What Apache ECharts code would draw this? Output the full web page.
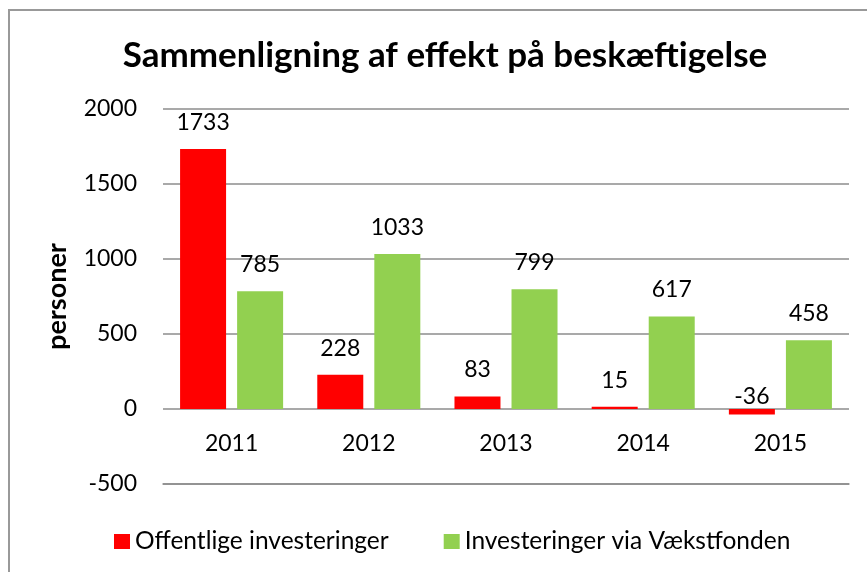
<!DOCTYPE html>
<html>
<head>
<meta charset="utf-8">
<script src="https://cdn.jsdelivr.net/npm/echarts@6/dist/echarts.min.js"></script>
<style>
  html, body { margin: 0; padding: 0; background: #fff; overflow: hidden; }
  #chart { width: 867px; height: 572px; }
</style>
</head>
<body>
<div id="chart"></div>
<script>
const years = ['2011', '2012', '2013', '2014', '2015'];
const offentlige = [1733, 228, 83, 15, -36];
const vaekstfonden = [785, 1033, 799, 617, 458];
const yTicks = [-500, 0, 500, 1000, 1500, 2000];

const fontFamily = 'Lato, "Open Sans", sans-serif';
const gridColor = '#8c8c8c';

const labelStyle = {
  show: true,
  position: 'top',
  distance: 15,
  fontSize: 23,
  fontFamily: fontFamily,
  color: '#000',
};

const myChart = echarts.init(document.getElementById('chart'));
myChart.setOption({
  animation: false,
  title: {
    text: 'Sammenligning af effekt på beskæftigelse',
    left: 440,
    textAlign: 'center',
    top: 33,
    textStyle: {
      fontSize: 35,
      fontWeight: 'bold',
      fontFamily: fontFamily,
      color: '#000',
    },
  },
  graphic: [
    {
      type: 'rect',
      shape: { x: 9, y: 10, width: 900, height: 620 },
      style: { fill: 'none', stroke: '#999', lineWidth: 2 },
      silent: true,
    },
  ],
  legend: {
    top: 524,
    left: 109,
    itemWidth: 16,
    itemHeight: 15,
    itemGap: 55,
    icon: 'rect',
    textStyle: { fontSize: 24.5, fontFamily: fontFamily, color: '#000' },
  },
  grid: {
    left: 163,
    right: 18,
    top: 109,
    bottom: 88,
  },
  xAxis: {
    type: 'category',
    data: years,
    axisLine: { onZero: false, lineStyle: { color: gridColor, width: 1.5 } },
    axisTick: { show: false },
    axisLabel: { margin: -52, fontSize: 23, fontFamily: fontFamily, color: '#000' },
  },
  yAxis: {
    type: 'value',
    min: yTicks[0],
    max: yTicks[yTicks.length - 1],
    interval: 500,
    name: 'personer',
    nameLocation: 'middle',
    nameGap: 92,
    nameTextStyle: { fontSize: 27, fontWeight: 'bold', fontFamily: fontFamily, color: '#000' },
    axisLine: { show: false },
    axisTick: { show: false },
    axisLabel: {
      margin: 26,
      fontSize: 23,
      fontFamily: fontFamily,
      color: '#000',
      formatter: (v) => String(v),
    },
    splitLine: { lineStyle: { color: gridColor, width: 1.5 } },
  },
  series: [
    {
      name: 'Offentlige investeringer',
      type: 'bar',
      data: offentlige.map((v) =>
        v < 0 ? { value: v, label: { position: 'insideBottom', distance: 0, offset: [0, -6] } } : v
      ),
      barWidth: 46,
      barGap: '24%',
      itemStyle: { color: '#ff0000' },
      label: labelStyle,
    },
    {
      name: 'Investeringer via Vækstfonden',
      type: 'bar',
      data: vaekstfonden,
      barWidth: 46,
      itemStyle: { color: '#92d050' },
      label: labelStyle,
    },
  ],
});
</script>
</body>
</html>
